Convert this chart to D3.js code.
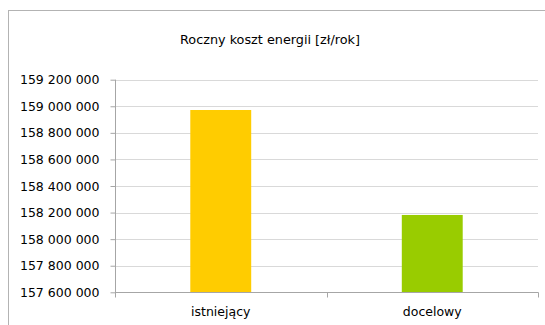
<!DOCTYPE html>
<html><head><meta charset="utf-8">
<script src="https://cdn.jsdelivr.net/npm/d3@7"></script>
<style>body{margin:0;background:#fff}svg{display:block}text{font-family:"DejaVu Sans",sans-serif;fill:#000}</style>
</head><body>
<script>
const title = "Roczny koszt energii [zł/rok]";
const categories = ["istniejący", "docelowy"];
const values = [158972000, 158182000];
const colors = ["#FFCC00", "#99CC00"];
const yTicks = [157600000, 157800000, 158000000, 158200000, 158400000, 158600000, 158800000, 159000000, 159200000];

const W = 545, H = 325;
const svg = d3.select("body").append("svg").attr("width", W).attr("height", H);
svg.append("rect").attr("x", 8.5).attr("y", 10.5).attr("width", 560).attr("height", 330)
  .attr("fill", "#fff").attr("stroke", "#b3b3b3").attr("stroke-width", 1);

const m = {l: 115, r: 538, t: 79.7, b: 292.3};
const y = d3.scaleLinear().domain([157600000, 159200000]).range([m.b, m.t]);
const x = d3.scaleBand().domain(categories).range([m.l, m.r]).paddingInner(0.712).paddingOuter(0.356);
const fmt = d => d3.format(",")(d).replace(/,/g, " ");

svg.append("text").attr("x", 270).attr("y", 44).attr("text-anchor", "middle")
  .style("font-size", "12.8px").text(title);

// gridlines
svg.append("g").selectAll("line").data(yTicks.slice(1)).join("line")
  .attr("x1", m.l).attr("x2", m.r)
  .attr("y1", d => Math.round(y(d)) + 0.5).attr("y2", d => Math.round(y(d)) + 0.5)
  .attr("stroke", "#d9d9d9");

// bars
svg.append("g").selectAll("rect").data(values).join("rect")
  .attr("x", (d, i) => x(categories[i])).attr("width", x.bandwidth())
  .attr("y", d => y(d)).attr("height", d => m.b - y(d))
  .attr("fill", (d, i) => colors[i]);

// y axis
const ya = svg.append("g").attr("transform", `translate(${m.l + 0.5},0)`)
  .call(d3.axisLeft(y).tickValues(yTicks).tickFormat(fmt).tickSize(5).tickPadding(11));
ya.select(".domain").attr("stroke", "#a6a6a6").attr("d", `M0,${m.t}V${m.b}`);
ya.selectAll(".tick line").attr("stroke", "#a6a6a6");
ya.selectAll(".tick text").style("font-size", "12.5px").style("font-family", "DejaVu Sans").attr("fill", "#000");

// x axis
const xa = svg.append("g").attr("transform", `translate(0,${Math.round(m.b) + 0.5})`);
xa.append("line").attr("x1", m.l).attr("x2", m.r + 0.5).attr("stroke", "#a6a6a6");
const bounds = [m.l, (m.l + m.r) / 2, m.r];
xa.selectAll("line.t").data(bounds).join("line").attr("class", "t")
  .attr("x1", d => Math.round(d) + 0.5).attr("x2", d => Math.round(d) + 0.5)
  .attr("y1", 0).attr("y2", 5).attr("stroke", "#a6a6a6");
xa.selectAll("text").data(categories).join("text")
  .attr("x", d => x(d) + x.bandwidth() / 2).attr("y", 23.5)
  .attr("text-anchor", "middle").style("font-size", "12.5px").text(d => d);
</script>
</body></html>
